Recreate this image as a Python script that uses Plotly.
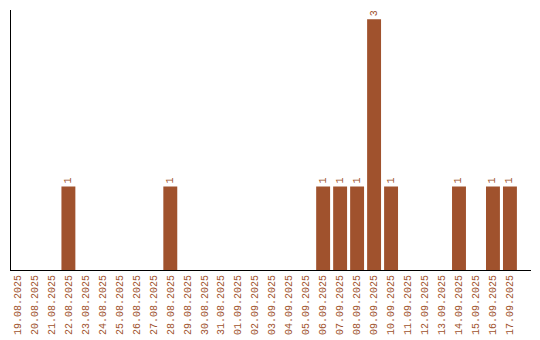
import plotly.graph_objects as go

dates = ["19.08.2025", "20.08.2025", "21.08.2025", "22.08.2025", "23.08.2025",
         "24.08.2025", "25.08.2025", "26.08.2025", "27.08.2025", "28.08.2025",
         "29.08.2025", "30.08.2025", "31.08.2025", "01.09.2025", "02.09.2025",
         "03.09.2025", "04.09.2025", "05.09.2025", "06.09.2025", "07.09.2025",
         "08.09.2025", "09.09.2025", "10.09.2025", "11.09.2025", "12.09.2025",
         "13.09.2025", "14.09.2025", "15.09.2025", "16.09.2025", "17.09.2025"]
counts = [0, 0, 0, 1, 0, 0, 0, 0, 0, 1,
          0, 0, 0, 0, 0, 0, 0, 0, 1, 1,
          1, 3, 1, 0, 0, 0, 1, 0, 1, 1]

color = "#A0522D"
font = "Liberation Mono"
labels = [str(v) if v > 0 else "" for v in counts]

fig = go.Figure(go.Bar(
    x=dates, y=counts, marker_color=color, marker_line_width=0,
    width=0.82, text=labels, textposition="outside", textangle=-90,
    textfont=dict(family=font, size=10, color=color),
    cliponaxis=False, hoverinfo="skip",
))

fig.update_layout(
    width=540, height=340,
    margin=dict(l=10.5, r=9, t=10, b=70, autoexpand=False),
    paper_bgcolor="white", plot_bgcolor="white",
    showlegend=False, bargap=0.18,
    xaxis=dict(type="category", range=[-0.38, 30.24], showline=True,
               linecolor="black", linewidth=1, showgrid=False, ticks="",
               tickangle=-90, automargin=False,
               tickfont=dict(family=font, size=10, color=color)),
    yaxis=dict(range=[0, 3.11], showline=True, linecolor="black", linewidth=1,
               showgrid=False, zeroline=False, showticklabels=False, ticks="",
               automargin=False),
)

fig.write_html("out.html")
